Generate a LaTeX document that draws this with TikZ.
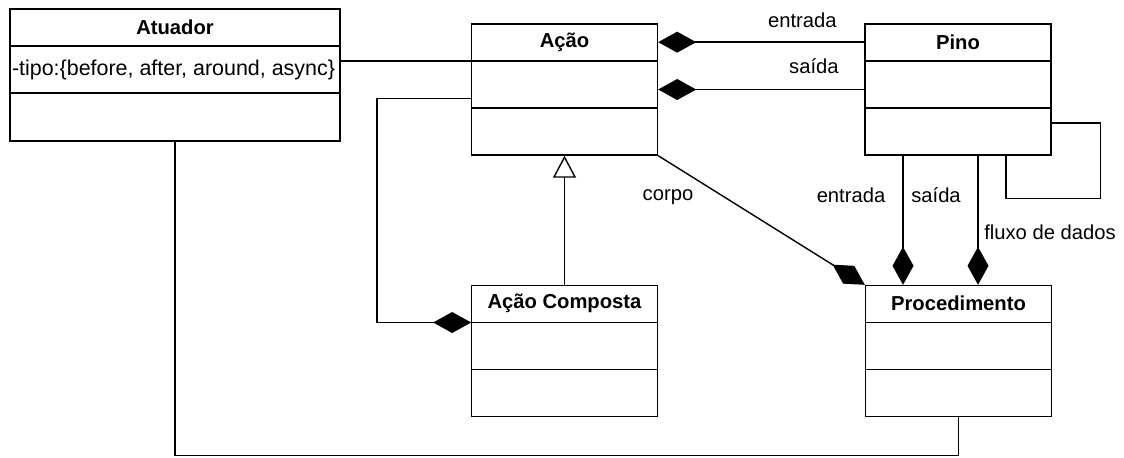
\documentclass[tikz,border=0pt]{standalone}
\usepackage{fontspec}
\setmainfont{Liberation Sans}
\usepackage{tikz}
\usetikzlibrary{calc}
\usetikzlibrary{arrows.meta}
\tikzstyle{classe} = [draw, line width=0.8pt, inner sep=0pt,
minimum width=3.72cm,
minimum height=2.62cm]
\tikzstyle{titulo} = [anchor=north, inner sep=0pt, minimum width=3.72cm, minimum height=0.74cm, font=\fontsize{11.5}{13}\selectfont\bfseries]
\tikzstyle{rotulo} = [inner sep=0pt, font=\fontsize{11.5}{13}\selectfont]
\tikzstyle{linha} = [line width=0.8pt]
\tikzstyle{comp} = [line width=0.8pt,-{Diamond[length=0.76cm,width=0.42cm]}]
\tikzstyle{heranca} = [line width=0.8pt,-{Triangle[open,length=0.44cm,width=0.46cm]}]

\begin{document}
\begin{tikzpicture}[x=0.02cm, y=-0.02cm]
    \useasboundingbox (0,0) rectangle (1124,457);

    % draw Atuador
    \node[classe, minimum width=6.6cm, minimum height=2.64cm] (atuador) at (175,75) {};
    \node[titulo, minimum width=6.6cm] (atuador-t) at (atuador.north) {Atuador};
    \node[rotulo, anchor=west, font=\fontsize{12.2}{14}\selectfont] (tipo) at ($(atuador-t.south west) + (2,23.5)$) {-tipo:\{before, after, around, async\}};
    \draw[linha] (atuador-t.south west) -- (atuador-t.south east);
    \draw[linha] ($(atuador-t.south west) + (0,47)$) -- ($(atuador-t.south east) + (0,47)$);

    % draw classes
    \foreach \nome/\titulo/\x/\y in {acao/Ação/564.5/89.5, pino/Pino/958/89.5, acaoc/Ação Composta/564.5/351, proc/Procedimento/958.5/351}{
        \node[classe] (\nome) at (\x,\y) {};
        \node[titulo] (\nome-t) at (\nome.north) {\titulo};
        \draw[linha] (\nome-t.south west) -- (\nome-t.south east);
        \draw[linha] ($(\nome-t.south west) + (0,47)$) -- ($(\nome-t.south east) + (0,47)$);
    }

    % draw Atuador links
    \draw[linha] (acao-t.south west -| atuador.east) -- (acao-t.south west);
    \draw[linha] (atuador.south) -- ++(0,314) -| (proc.south);

    % draw Acao links
    \coordinate (acao-e) at ($(acao.west) + (0,9)$);
    \draw[comp] (acao-e) -| ($(acaoc-t.south west) + (-94,0)$) -- (acaoc-t.south west);
    \draw[heranca] (acaoc.north) -- (acao.south);
    \draw[comp] (acao.south east) -- (proc.north west);
    \node[rotulo] (corpo) at (668,197) {corpo};

    % draw Pino links
    \draw[comp] (pino-t.west) -- (pino-t.west -| acao.east);
    \draw[comp] (pino.west) -- (acao.east);
    \node[rotulo, anchor=east] (entrada1) at (837,20) {entrada};
    \node[rotulo, anchor=east] (saida1) at (839,66) {saída};

    \coordinate (pino-s1) at ($(pino.south) + (-55,0)$);
    \coordinate (pino-s2) at ($(pino.south) + (20,0)$);
    \draw[comp] (pino-s1) -- (pino-s1 |- proc.north);
    \draw[comp] (pino-s2) -- (pino-s2 |- proc.north);
    \node[rotulo] (entrada2) at (851,195) {entrada};
    \node[rotulo] (saida2) at (936,195) {saída};
    \node[rotulo] (fluxo) at (1050,232) {fluxo de dados};

    % draw self loop
    \draw[linha] ($(pino.east) + (0,33.5)$) -- ++(49,0) |- ($(pino.south) + (48,43)$) -- ($(pino.south) + (48,0)$);
    
\end{tikzpicture}
\end{document}
